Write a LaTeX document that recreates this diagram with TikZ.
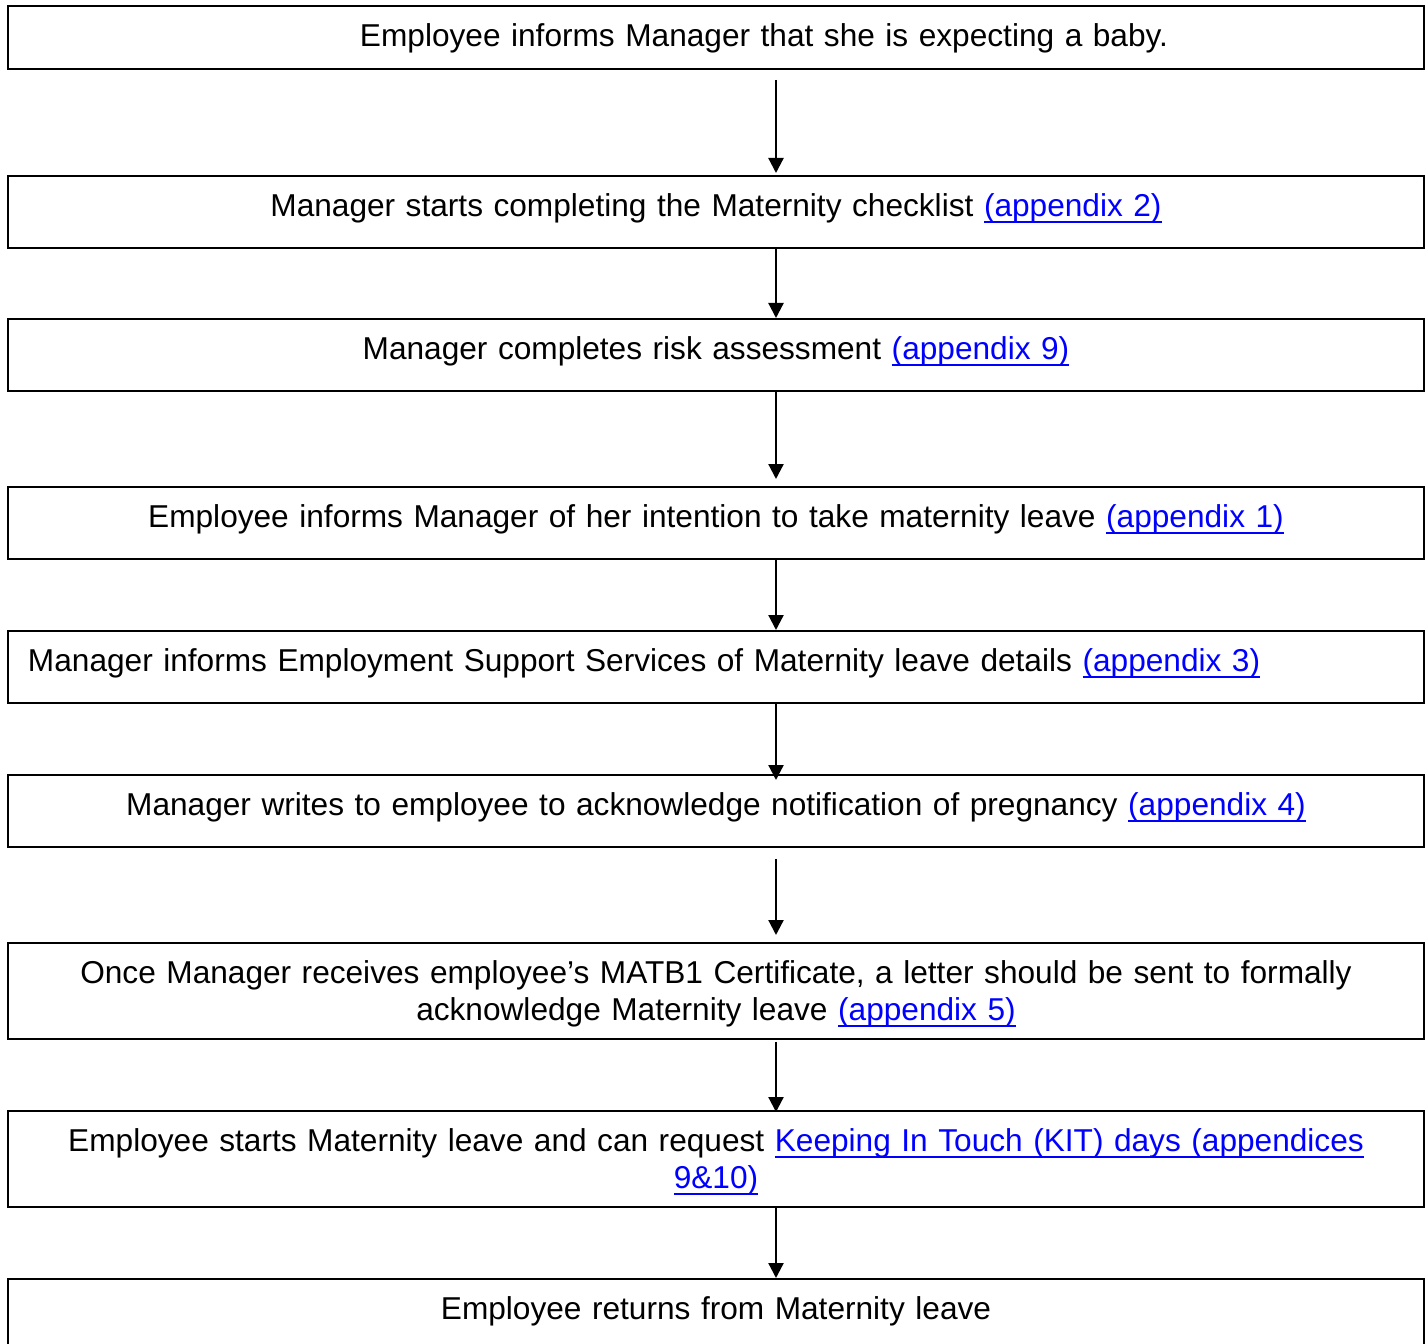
\documentclass[tikz,border=0pt]{standalone}
\usepackage{fontspec}
\setmainfont{Liberation Sans}
\usetikzlibrary{arrows.meta, positioning}
\definecolor{linkblue}{RGB}{0,0,255}
\newlength\px
\setlength\px{0.02cm}
\newsavebox\linkbox
\newcommand\applink[1]{\leavevmode{\color{linkblue}\sbox\linkbox{#1}\rlap{\rule[-3.35pt]{\wd\linkbox}{1.1pt}}\usebox\linkbox}}
\tikzset{
stepbox/.style={shape=rectangle, draw, line width=1.1pt, anchor=north, inner xsep=0, inner ysep=0, text width=1416\px, align=center, font=\fontsize{18}{21}\selectfont, text height=41\px, text depth=31\px}, firstbox/.style={stepbox, text depth=22\px}, twoline/.style={stepbox, text depth=55\px}}

\begin{document}
\begin{tikzpicture}[x=0.02cm, y=-0.02cm, >={Triangle[width=0.3cm, length=0.3cm]}]
\useasboundingbox (0,0) rectangle (1427,1344);
\node [firstbox] at (716, 5) (step-1) {\hspace*{96\px}Employee informs Manager that she is expecting a baby.};
\node [stepbox] at (716, 175) (step-2) {Manager starts completing the Maternity checklist \applink{(appendix 2)}};
\node [stepbox] at (716, 318) (step-3) {Manager completes risk assessment \applink{(appendix 9)}};
\node [stepbox] at (716, 486) (step-4) {Employee informs Manager of her intention to take maternity leave \applink{(appendix 1)}};
\node [stepbox, align=left] at (716, 630) (step-5) {\hspace*{20\px}Manager informs Employment Support Services of Maternity leave details \applink{(appendix 3)}};
\node [stepbox] at (716, 774) (step-6) {Manager writes to employee to acknowledge notification of pregnancy \applink{(appendix 4)}};
\node [twoline] at (716, 942) (step-7) {Once Manager receives employee’s MATB1 Certificate, a letter should be sent to formally\\ acknowledge Maternity leave \applink{(appendix 5)}};
\node [twoline] at (716, 1110) (step-8) {Employee starts Maternity leave and can request \applink{Keeping In Touch (KIT) days (appendices}\\ \applink{9\&10)}};
\node [stepbox] at (716, 1278) (step-9) {Employee returns from Maternity leave};

\foreach \a/\b/\s/\e in {1/2/10/2, 2/3/0/0, 3/4/0/7, 4/5/0/0, 5/6/0/-6, 6/7/11/7, 7/8/2/-2, 8/9/0/0}{
      \draw [->, line width=1.3pt] ([xshift=60\px, yshift=-\s\px]step-\a.south) -- ([xshift=60\px, yshift=\e\px]step-\b.north);
}
\end{tikzpicture}
\end{document}
